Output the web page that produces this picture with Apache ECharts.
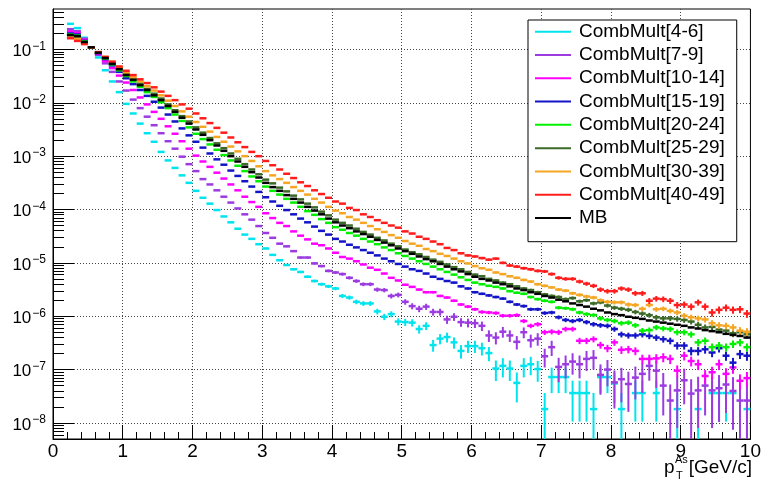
<!DOCTYPE html>
<html><head><meta charset="utf-8">
<script src="https://cdn.jsdelivr.net/npm/echarts@6/dist/echarts.min.js"></script>
<style>html,body{margin:0;padding:0;background:#fff}#c{width:764px;height:482px}</style>
</head><body><div id="c"></div>
<script>
// ---- binning (pT bins 0.2 .. 10.0 GeV/c, width 0.1) ----
const binLow = 0.2, binWidth = 0.1, nBins = 98;
const xTickLabels = ['0','1','2','3','4','5','6','7','8','9','10'];
const yDecades = [1e-8,1e-7,1e-6,1e-5,1e-4,1e-3,1e-2,1e-1];

const seriesNames = ['CombMult[4-6]','CombMult[7-9]','CombMult[10-14]','CombMult[15-19]','CombMult[20-24]','CombMult[25-29]','CombMult[30-39]','CombMult[40-49]','MB'];

// ---- per-bin yields, stored as log10(yield) (null = empty bin) ----
const log10_CombMult_4_6 = [-0.52,-0.60,-0.78,-0.97,-1.15,-1.39,-1.60,-1.80,-2.02,-2.20,
 -2.39,-2.57,-2.73,-2.92,-3.08,-3.22,-3.36,-3.50,-3.65,-3.78,
 -3.89,-4.01,-4.13,-4.24,-4.36,-4.47,-4.55,-4.65,-4.73,-4.85,
 -4.95,-5.04,-5.12,-5.17,-5.26,-5.34,-5.40,-5.44,-5.48,-5.62,
 -5.65,-5.73,-5.76,-5.76,-5.91,-6.01,-5.96,-6.10,-6.11,-6.12,
 -6.24,-6.18,-6.54,-6.42,-6.39,-6.49,-6.65,-6.56,-6.56,-6.60,
 -6.69,-6.98,-6.93,-6.98,-7.25,-6.93,-6.90,-6.99,-7.74,-7.14,
 -7.14,-7.14,-7.44,-7.44,-7.44,-7.74,-7.14,-7.14,-7.26,-7.74,
 null,-7.44,-7.44,null,-7.44,null,null,-7.74,null,null,
 -7.74,null,-7.44,-7.44,-7.44,-7.44,null,-7.74];
const log10_CombMult_7_9 = [-0.62,-0.66,-0.80,-0.96,-1.10,-1.26,-1.42,-1.60,-1.77,-1.94,
 -2.10,-2.26,-2.42,-2.57,-2.72,-2.86,-3.01,-3.15,-3.28,-3.43,
 -3.53,-3.64,-3.76,-3.87,-3.98,-4.09,-4.19,-4.31,-4.44,-4.53,
 -4.64,-4.69,-4.78,-4.90,-4.90,-5.01,-5.06,-5.15,-5.18,-5.21,
 -5.28,-5.34,-5.40,-5.40,-5.50,-5.51,-5.62,-5.60,-5.73,-5.81,
 -5.86,-5.82,-5.92,-5.92,-6.06,-6.01,-6.11,-6.12,-6.13,-6.18,
 -6.36,-6.40,-6.29,-6.36,-6.48,-6.30,-6.45,-6.42,-6.75,-6.58,
 -6.95,-6.90,-6.85,-6.90,-6.80,-6.78,-7.10,-7.00,-7.24,-7.18,
 -7.27,-7.15,-7.08,-6.93,-7.02,-7.30,-7.58,-7.39,-7.20,-7.45,
 -7.39,-7.30,-7.39,-7.35,-7.28,-7.40,-7.58,-7.58];
const log10_CombMult_10_14 = [-0.66,-0.69,-0.82,-0.96,-1.08,-1.22,-1.35,-1.49,-1.62,-1.76,
 -1.90,-2.03,-2.17,-2.30,-2.44,-2.58,-2.72,-2.86,-2.99,-3.10,
 -3.20,-3.31,-3.42,-3.53,-3.64,-3.76,-3.86,-3.95,-4.07,-4.16,
 -4.25,-4.31,-4.41,-4.49,-4.56,-4.64,-4.67,-4.73,-4.81,-4.89,
 -4.92,-4.97,-5.03,-5.09,-5.13,-5.20,-5.28,-5.33,-5.41,-5.45,
 -5.50,-5.55,-5.55,-5.62,-5.65,-5.71,-5.78,-5.82,-5.87,-5.92,
 -5.93,-5.94,-5.99,-5.99,-5.98,-6.09,-6.18,-6.15,-6.30,-6.29,
 -6.30,-6.24,-6.24,-6.46,-6.46,-6.43,-6.54,-6.60,-6.49,-6.63,
 -6.62,-6.65,-6.80,-6.80,-6.79,-6.77,-6.80,-7.02,-6.74,-6.84,
 -6.90,-7.12,-7.05,-6.90,-7.08,-6.96,-7.21,-7.16];
const log10_CombMult_15_19 = [-0.70,-0.72,-0.84,-0.96,-1.07,-1.18,-1.30,-1.42,-1.54,-1.65,
 -1.76,-1.87,-1.98,-2.09,-2.22,-2.35,-2.48,-2.61,-2.73,-2.84,
 -2.95,-3.06,-3.16,-3.27,-3.37,-3.47,-3.57,-3.67,-3.77,-3.85,
 -3.93,-4.01,-4.09,-4.17,-4.24,-4.32,-4.40,-4.47,-4.55,-4.60,
 -4.66,-4.71,-4.76,-4.81,-4.86,-4.92,-4.97,-5.02,-5.07,-5.12,
 -5.15,-5.20,-5.26,-5.30,-5.34,-5.37,-5.44,-5.48,-5.55,-5.58,
 -5.61,-5.64,-5.67,-5.73,-5.78,-5.81,-5.87,-5.87,-5.94,-5.93,
 -6.02,-6.07,-6.09,-6.07,-6.11,-6.15,-6.17,-6.18,-6.24,-6.34,
 -6.36,-6.36,-6.34,-6.37,-6.40,-6.43,-6.46,-6.55,-6.55,-6.65,
 -6.65,-6.62,-6.68,-6.60,-6.74,-6.87,-6.71,-6.74];
const log10_CombMult_20_24 = [-0.72,-0.74,-0.85,-0.96,-1.06,-1.17,-1.28,-1.39,-1.50,-1.60,
 -1.70,-1.80,-1.89,-1.99,-2.10,-2.22,-2.34,-2.46,-2.58,-2.68,
 -2.78,-2.88,-2.98,-3.08,-3.18,-3.28,-3.38,-3.47,-3.57,-3.65,
 -3.72,-3.80,-3.87,-3.95,-4.03,-4.10,-4.18,-4.25,-4.33,-4.38,
 -4.44,-4.49,-4.55,-4.60,-4.65,-4.71,-4.76,-4.82,-4.87,-4.92,
 -4.97,-5.02,-5.07,-5.12,-5.17,-5.22,-5.27,-5.32,-5.37,-5.40,
 -5.43,-5.45,-5.48,-5.53,-5.56,-5.58,-5.64,-5.68,-5.71,-5.73,
 -5.84,-5.85,-5.87,-5.93,-5.96,-5.98,-6.04,-6.07,-6.09,-6.13,
 -6.12,-6.17,-6.27,-6.26,-6.21,-6.23,-6.24,-6.30,-6.30,-6.34,
 -6.49,-6.46,-6.58,-6.55,-6.58,-6.52,-6.49,-6.58];
const log10_CombMult_25_29 = [-0.74,-0.76,-0.87,-0.96,-1.06,-1.16,-1.26,-1.36,-1.46,-1.55,
 -1.64,-1.74,-1.83,-1.92,-2.03,-2.14,-2.25,-2.35,-2.46,-2.56,
 -2.66,-2.76,-2.85,-2.95,-3.05,-3.15,-3.25,-3.34,-3.44,-3.51,
 -3.59,-3.66,-3.74,-3.81,-3.89,-3.96,-4.04,-4.11,-4.19,-4.25,
 -4.30,-4.36,-4.42,-4.47,-4.53,-4.58,-4.64,-4.69,-4.75,-4.80,
 -4.84,-4.89,-4.94,-4.98,-5.03,-5.08,-5.12,-5.17,-5.22,-5.25,
 -5.30,-5.33,-5.37,-5.40,-5.44,-5.48,-5.51,-5.55,-5.59,-5.62,
 -5.64,-5.68,-5.66,-5.72,-5.70,-5.76,-5.74,-5.80,-5.84,-5.86,
 -5.88,-5.92,-5.95,-5.98,-6.02,-6.04,-6.04,-6.05,-6.07,-6.10,
 -6.16,-6.21,-6.20,-6.25,-6.27,-6.32,-6.30,-6.34];
const log10_CombMult_30_39 = [-0.77,-0.80,-0.88,-0.96,-1.05,-1.14,-1.23,-1.33,-1.43,-1.52,
 -1.60,-1.69,-1.77,-1.86,-1.96,-2.06,-2.16,-2.26,-2.36,-2.45,
 -2.54,-2.64,-2.73,-2.82,-2.91,-3.00,-3.09,-3.19,-3.28,-3.36,
 -3.43,-3.50,-3.58,-3.65,-3.72,-3.80,-3.87,-3.95,-4.02,-4.07,
 -4.14,-4.19,-4.25,-4.31,-4.37,-4.42,-4.48,-4.53,-4.59,-4.64,
 -4.68,-4.74,-4.78,-4.83,-4.87,-4.92,-4.97,-5.01,-5.06,-5.10,
 -5.13,-5.18,-5.21,-5.25,-5.28,-5.32,-5.35,-5.40,-5.43,-5.46,
 -5.50,-5.52,-5.57,-5.60,-5.63,-5.65,-5.70,-5.73,-5.74,-5.74,
 -5.78,-5.79,-5.86,-5.79,-5.87,-5.86,-5.90,-5.93,-5.99,-6.02,
 -6.04,-6.06,-6.13,-6.17,-6.18,-6.21,-6.27,-6.29];
const log10_CombMult_40_49 = [-0.79,-0.84,-0.90,-0.96,-1.05,-1.14,-1.23,-1.32,-1.40,-1.48,
 -1.56,-1.63,-1.71,-1.79,-1.87,-1.95,-2.03,-2.11,-2.20,-2.29,
 -2.38,-2.47,-2.56,-2.65,-2.74,-2.83,-2.92,-3.00,-3.09,-3.17,
 -3.25,-3.33,-3.41,-3.49,-3.56,-3.64,-3.71,-3.78,-3.85,-3.89,
 -3.97,-4.01,-4.09,-4.14,-4.20,-4.25,-4.30,-4.34,-4.41,-4.45,
 -4.51,-4.55,-4.60,-4.65,-4.72,-4.76,-4.82,-4.86,-4.88,-4.91,
 -4.94,-4.92,-5.00,-5.05,-5.07,-5.10,-5.12,-5.15,-5.16,-5.21,
 -5.28,-5.30,-5.30,-5.35,-5.39,-5.43,-5.50,-5.53,-5.53,-5.48,
 -5.50,-5.57,-5.57,-5.71,-5.67,-5.68,-5.71,-5.79,-5.78,-5.82,
 -5.74,-5.82,-5.93,-5.88,-5.84,-5.88,-5.87,-5.95];
const log10_MB = [-0.73,-0.75,-0.86,-0.96,-1.06,-1.16,-1.27,-1.37,-1.48,-1.57,
 -1.67,-1.76,-1.86,-1.95,-2.06,-2.17,-2.28,-2.39,-2.50,-2.60,
 -2.70,-2.80,-2.90,-3.00,-3.10,-3.20,-3.30,-3.40,-3.50,-3.58,
 -3.65,-3.73,-3.80,-3.87,-3.95,-4.02,-4.09,-4.17,-4.24,-4.30,
 -4.35,-4.41,-4.46,-4.51,-4.57,-4.62,-4.67,-4.73,-4.78,-4.83,
 -4.88,-4.93,-4.97,-5.02,-5.07,-5.12,-5.16,-5.21,-5.26,-5.30,
 -5.33,-5.37,-5.40,-5.44,-5.48,-5.51,-5.55,-5.58,-5.62,-5.65,
 -5.69,-5.72,-5.76,-5.79,-5.82,-5.86,-5.89,-5.93,-5.96,-5.98,
 -6.01,-6.03,-6.05,-6.08,-6.10,-6.12,-6.14,-6.16,-6.18,-6.21,
 -6.23,-6.26,-6.28,-6.30,-6.33,-6.35,-6.37,-6.40];

// log10 of the yield of a single entry per class (read from the quantised tail / error-bar sizes)
const log10_singleEntry = [-7.74,-7.58,-8.2,-8.15,-8.1,-7.95,-7.85,-7.5,-9.3];

const seriesLogs = [log10_CombMult_4_6,log10_CombMult_7_9,log10_CombMult_10_14,log10_CombMult_15_19,
  log10_CombMult_20_24,log10_CombMult_25_29,log10_CombMult_30_39,log10_CombMult_40_49,log10_MB];
const colors = ['#00e4ee','#9b3be0','#ff00ff','#1414c8','#00f000','#3b6a28','#f5a623','#ff1c1c','#000000'];

const FONT = 'Liberation Sans, Arial, Helvetica, sans-serif';
const yMin = 5.0e-9, yMax = 0.573;

const yMinor = [];
for (let e = -9; e <= -1; e++) for (let k = 2; k <= 9; k++) {
  const v = k * Math.pow(10, e);
  if (v > yMin && v < yMax) yMinor.push(v);
}

function buildData(logs, unitLog) {
  const unit = Math.pow(10, unitLog);
  const out = [];
  logs.forEach((lv, i) => {
    if (lv === null) return;
    const y = Math.pow(10, lv);
    out.push([binLow + binWidth * (i + 0.5), y, Math.sqrt(y * unit)]);
  });
  return out;
}

function renderItem(params, api) {
  const x = api.value(0), y = api.value(1), e = api.value(2);
  const color = api.visual('color');
  const cs = params.coordSys;
  const l = api.coord([x - binWidth / 2, y]);
  const r = api.coord([x + binWidth / 2, y]);
  const hi = api.coord([x, y + e]);
  const lo = (y - e) > yMin ? api.coord([x, y - e]) : [hi[0], cs.y + cs.height];
  return { type: 'group', children: [
    { type: 'line', shape: { x1: l[0], y1: l[1], x2: r[0], y2: r[1] }, style: { stroke: color, lineWidth: 2.5 } },
    { type: 'line', shape: { x1: hi[0], y1: hi[1], x2: lo[0], y2: lo[1] }, style: { stroke: color, lineWidth: 2 } }
  ]};
}

const series = seriesNames.map((name, s) => ({
  name, type: 'custom', renderItem, clip: true,
  xAxisIndex: 0, yAxisIndex: 0,
  itemStyle: { color: colors[s] },
  encode: { x: 0, y: 1 },
  data: buildData(seriesLogs[s], log10_singleEntry[s]),
  z: 2 + s * 0.01
}));

const chart = echarts.init(document.getElementById('c'), null, { renderer: 'canvas' });
chart.setOption({
  animation: false,
  backgroundColor: '#fff',
  grid: { left: 53, right: 12, top: 9, bottom: 43, show: true, borderColor: '#000', borderWidth: 1, backgroundColor: 'transparent' },
  xAxis: {
    type: 'value', min: 0, max: 10, interval: 1,
    axisLine: { show: true, lineStyle: { color: '#000', width: 1 } },
    axisTick: { show: true, inside: true, length: 14, lineStyle: { color: '#000', width: 1 } },
    minorTick: { show: true, splitNumber: 5, length: 7, lineStyle: { color: '#000', width: 1 } },
    axisLabel: { show: true, color: '#000', fontSize: 19, fontFamily: FONT, margin: 3,
      formatter: (v) => xTickLabels[Math.round(v)] },
    splitLine: { show: true, showMinLine: false, showMaxLine: false, lineStyle: { color: '#444', width: 1, type: [1, 2] } }
  },
  yAxis: [{
    type: 'log', logBase: 10, min: yMin, max: yMax,
    axisLine: { show: true, lineStyle: { color: '#000', width: 1 } },
    axisTick: { show: true, inside: true, length: 21, customValues: yDecades, lineStyle: { color: '#000', width: 1 } },
    axisLabel: { show: true, customValues: yDecades, margin: 7, color: '#000', fontFamily: FONT, padding: [4, 0, 0, 0],
      formatter: (v) => '{b|10}{s|\u2212' + Math.round(-Math.log10(v)) + '}',
      rich: { b: { fontSize: 17, lineHeight: 22, fontFamily: FONT, color: '#000' },
              s: { fontSize: 12, lineHeight: 11, verticalAlign: 'top', fontFamily: FONT, color: '#000', padding: [0, 0, 0, 1] } } },
    splitLine: { show: true, lineStyle: { color: '#444', width: 1, type: [1, 2] } },
    minorTick: { show: false }
  }, {
    type: 'log', logBase: 10, min: yMin, max: yMax, position: 'left',
    axisLine: { show: false },
    axisTick: { show: true, inside: true, length: 11, customValues: yMinor, lineStyle: { color: '#000', width: 1 } },
    axisLabel: { show: false },
    splitLine: { show: false }
  }],
  legend: {
    orient: 'vertical', left: 528, top: 20,
    padding: [0, 12, 12, 7], itemGap: 0, itemWidth: 36, itemHeight: 2, icon: 'rect',
    backgroundColor: '#fff', borderColor: '#000', borderWidth: 1, borderRadius: 0,
    textStyle: { fontSize: 19, lineHeight: 23.3, color: '#000', fontFamily: FONT, padding: [0, 0, 0, 3] },
    data: seriesNames,
    selectedMode: false
  },
  graphic: [
    { type: 'text', left: 664, top: 458, style: { text: 'p', fontSize: 19, fontFamily: FONT, fill: '#000' } },
    { type: 'text', left: 675, top: 454, style: { text: 'As', fontSize: 11, fontFamily: FONT, fill: '#000' } },
    { type: 'text', left: 676, top: 470, style: { text: 'T', fontSize: 11, fontFamily: FONT, fill: '#000' } },
    { type: 'text', right: 12, top: 458, style: { text: '[GeV/c]', fontSize: 19, fontFamily: FONT, fill: '#000' } }
  ],
  series
});
</script></body></html>
